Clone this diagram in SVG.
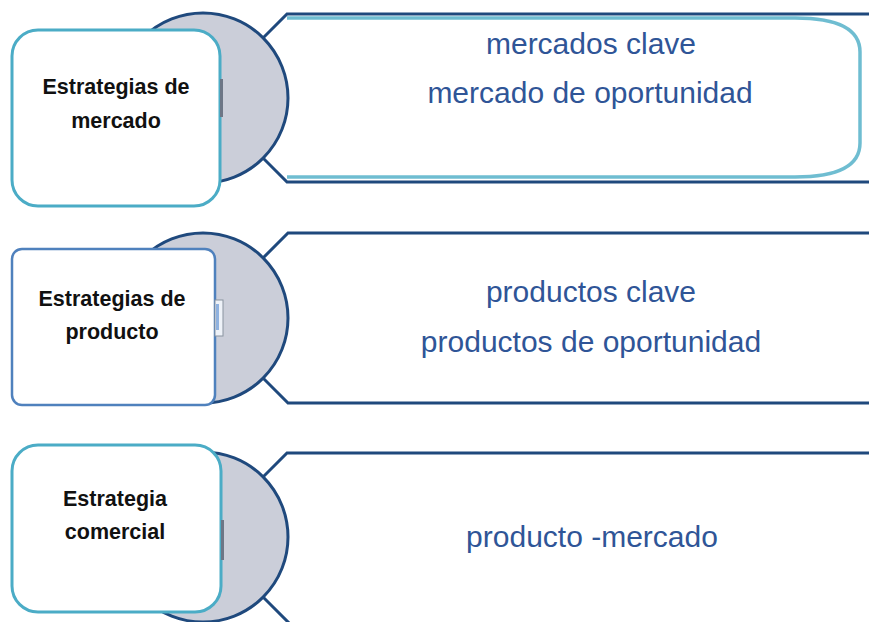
<svg xmlns="http://www.w3.org/2000/svg" width="869" height="622" viewBox="0 0 869 622">
<defs>
<style>
.chev{fill:#ffffff;stroke:#1f497d;stroke-width:3;stroke-linejoin:miter}
.circ{fill:#cbced9;stroke:#1f497d;stroke-width:3}
.boxA{fill:#ffffff;stroke:#4bacc6;stroke-width:3}
.boxB{fill:#ffffff;stroke:#4f81bd;stroke-width:2.5}
.lab{font-family:"Liberation Sans",Arial,sans-serif;font-weight:bold;font-size:21.5px;fill:#111111;text-anchor:middle}
.txt{font-family:"Liberation Sans",Arial,sans-serif;font-size:30px;fill:#2f5597;text-anchor:middle}
.glow{fill:none;stroke:#4bacc6;stroke-width:3.5;stroke-opacity:0.8}
</style>
</defs>
<rect width="869" height="622" fill="#ffffff"/>
<g id="connectors">
<path class="chev" d="M203 98 L287 14 H900 V182 H287 Z"/>
<path class="glow" d="M287 18 H795 Q860 18 860 52 V143 Q860 177 795 177 H287"/>
<path class="chev" d="M203 318 L288 233 H900 V403 H288 Z"/>
<path class="chev" d="M203 537 L287 453 H900 V630 H296 Z"/>
</g>
<g id="node-mercado">
<circle class="circ" cx="203" cy="98" r="85"/>
<rect class="boxA" x="12" y="30" width="208" height="176" rx="26"/>
<rect x="220" y="79" width="3" height="38" fill="#6d7686"/>
<text class="lab" x="116" y="94">Estrategias de</text>
<text class="lab" x="116" y="128">mercado</text>
<text class="txt" x="591" y="54">mercados clave</text>
<text class="txt" x="590" y="103">mercado de oportunidad</text>
</g>
<g id="node-producto">
<circle class="circ" cx="203" cy="318" r="85"/>
<rect class="boxB" x="12" y="249" width="203" height="156" rx="10"/>
<rect x="215" y="300" width="8" height="36" fill="#eef2f8" stroke="#8a93a0" stroke-width="1"/>
<rect x="216" y="304" width="3" height="26" fill="#8fb2e0"/>
<text class="lab" x="112" y="306">Estrategias de</text>
<text class="lab" x="112" y="339">producto</text>
<text class="txt" x="591" y="302">productos clave</text>
<text class="txt" x="591" y="352">productos de oportunidad</text>
</g>
<g id="node-comercial">
<circle class="circ" cx="203" cy="537" r="85"/>
<rect class="boxA" x="12" y="445" width="209" height="167" rx="26"/>
<rect x="221" y="520" width="3" height="40" fill="#6d7686"/>
<text class="lab" x="115" y="506">Estrategia</text>
<text class="lab" x="115" y="539">comercial</text>
<text class="txt" x="592" y="547">producto -mercado</text>
</g>
</svg>
